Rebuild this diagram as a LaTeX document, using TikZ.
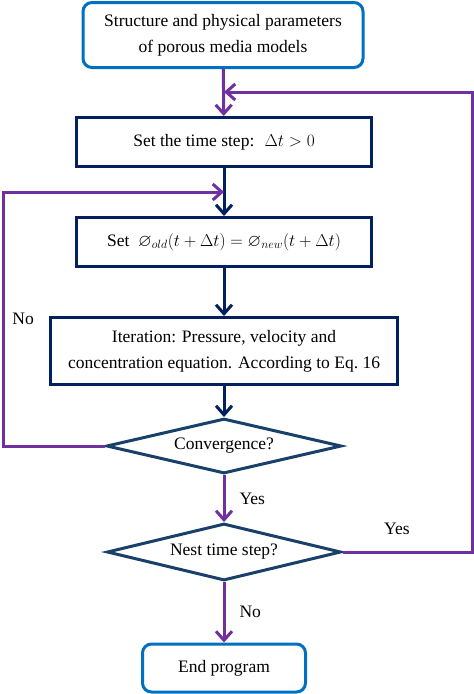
\documentclass[tikz,border=0pt]{standalone}
\usepackage{amsmath,amssymb}
\usepackage{fontspec}
\newfontfamily\flowfont{Liberation Serif}
\usetikzlibrary{arrows.meta,shapes.geometric}
\definecolor{boxblue}{RGB}{0,112,192}
\definecolor{navy}{RGB}{0,32,96}
\definecolor{diamblue}{RGB}{24,64,104}
\definecolor{loopviolet}{RGB}{112,48,160}
\begin{document}
\begin{tikzpicture}[x=1pt,y=-1pt,>={Straight Barb[length=9pt,width=16pt]},
        every node/.style={font=\flowfont\fontsize{17.5}{26}\selectfont,align=center},
        startstop/.style={draw=boxblue,line width=3pt,rounded corners=9pt,inner sep=0pt},
        process/.style={draw=navy,line width=3pt,rectangle,inner sep=0pt},
        decision/.style={draw=diamblue,line width=3pt,diamond,aspect=4.2,inner sep=0pt},
        mainline/.style={draw=navy,line width=3pt,->},
        loopline/.style={draw=loopviolet,line width=3pt,->},
        lbl/.style={font=\flowfont\fontsize{17.5}{20}\selectfont,inner sep=2pt}]
        \useasboundingbox (0,0) rectangle (474,694);
        \node [startstop,minimum width=280pt,minimum height=65pt] (start) at (223,35)
            {Structure and physical parameters\\of porous media models};
        \node [process,minimum width=295pt,minimum height=49pt] (step) at (224,142)
            {Set the time step:~ $\Delta t > 0$};
        \node [process,minimum width=295pt,minimum height=49pt] (set) at (224,242)
            {Set~ $\varnothing_{old}(t+\Delta t) = \varnothing_{new}(t+\Delta t)$};
        \node [process,minimum width=347pt,minimum height=67pt] (iter) at (224,351)
            {Iteration: Pressure, velocity and\\concentration equation. According to Eq.~16};
        \node [decision,minimum width=235pt,minimum height=55pt] (conv) at (224,446) {Convergence?};
        \node [decision,minimum width=234pt,minimum height=57pt] (nest) at (224,552) {Nest time step?};
        \node [startstop,minimum width=163pt,minimum height=48pt] (end) at (224,668) {End program};
        \coordinate (joinstep) at (224,92);
        \coordinate (joinset) at (224,192);
        \draw [loopline] (start) -- (step);
        \draw [mainline] (step) -- (set);
        \draw [mainline] (set) -- (iter);
        \draw [mainline] (iter) -- (conv);
        \draw [loopline] (conv) -- node [lbl,right=12pt] {Yes} (nest);
        \draw [loopline] (nest) -- node [lbl,right=12pt] {No} (end);
        \draw [loopline] (conv.west) -- (3,446) -- node [lbl,right=6pt] {No} (3,192) -- (joinset);
        \draw [loopline] (nest.east) -- node [lbl,pos=0.42,above=14pt] {Yes} (472,552) -- (472,92) -- (joinstep);
\end{tikzpicture}
\end{document}
